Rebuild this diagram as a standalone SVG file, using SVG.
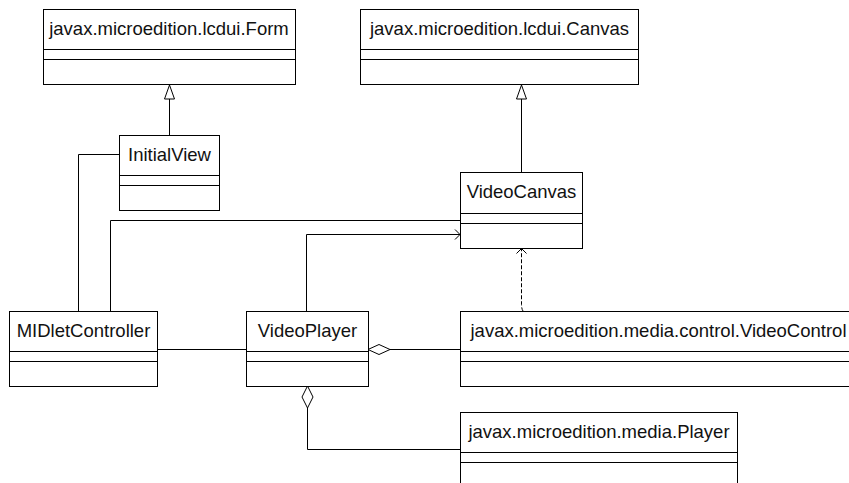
<svg xmlns="http://www.w3.org/2000/svg" width="849" height="483" viewBox="0 0 849 483">
<style>
.box{fill:#fff;stroke:#000;stroke-width:1}
.sep{stroke:#000;stroke-width:1}
.lbl{font-family:"Liberation Sans",Arial,Helvetica,sans-serif;font-size:18.5px;fill:#111;text-anchor:middle}
.edge{fill:none;stroke:#000;stroke-width:1}
.dash{fill:none;stroke:#000;stroke-width:1;stroke-dasharray:4,2}
.hollow{fill:#fff;stroke:#000;stroke-width:1}
</style>
<rect width="849" height="483" fill="#fff"/>
<g id="connectors">
  <!-- generalizations -->
  <path class="edge" d="M169.5,135 V99"/>
  <path class="hollow" d="M169.5,85 L164.5,99 L174.5,99 Z"/>
  <path class="edge" d="M521.5,172 V99"/>
  <path class="hollow" d="M521.5,85 L516.5,99 L526.5,99 Z"/>
  <!-- MIDletController - InitialView -->
  <path class="edge" d="M78.5,311 V154.5 H119"/>
  <!-- MIDletController - VideoCanvas -->
  <path class="edge" d="M110.5,311 V220.5 H460"/>
  <!-- VideoPlayer -> VideoCanvas -->
  <path class="edge" d="M306.5,311 V234.5 H460"/>
  <path class="edge" d="M455,229.5 L460,234.5 L455,239.5"/>
  <!-- MIDletController - VideoPlayer -->
  <path class="edge" d="M157,349.5 H246"/>
  <!-- VideoPlayer <>- VideoControl -->
  <path class="edge" d="M390,349.5 H460"/>
  <path class="hollow" d="M368,349.5 L379,344.5 L390,349.5 L379,354.5 Z"/>
  <!-- VideoPlayer <>- Player -->
  <path class="edge" d="M307.5,408 V449.5 H460"/>
  <path class="hollow" d="M307.5,386 L313,397 L307.5,408 L302,397 Z"/>
  <!-- VideoControl ..> VideoCanvas -->
  <path class="dash" d="M523,311 Q521.5,309 521.5,304 V249"/>
  <path class="edge" d="M516.5,253.5 L521.5,248.5 L526.5,253.5"/>
</g>
<g id="form">
  <rect class="box" x="43.5" y="9.5" width="252" height="75"/>
  <line class="sep" x1="43.5" y1="49.5" x2="295.5" y2="49.5"/>
  <line class="sep" x1="43.5" y1="59.5" x2="295.5" y2="59.5"/>
  <text class="lbl" x="169" y="35">javax.microedition.lcdui.Form</text>
</g>
<g id="canvas">
  <rect class="box" x="360.5" y="9.5" width="278" height="75"/>
  <line class="sep" x1="360.5" y1="49.5" x2="638.5" y2="49.5"/>
  <line class="sep" x1="360.5" y1="59.5" x2="638.5" y2="59.5"/>
  <text class="lbl" x="499.5" y="35">javax.microedition.lcdui.Canvas</text>
</g>
<g id="initialview">
  <rect class="box" x="119.5" y="135.5" width="100" height="75"/>
  <line class="sep" x1="119.5" y1="175.5" x2="219.5" y2="175.5"/>
  <line class="sep" x1="119.5" y1="185.5" x2="219.5" y2="185.5"/>
  <text class="lbl" x="169.5" y="161">InitialView</text>
</g>
<g id="videocanvas">
  <rect class="box" x="460.5" y="172.5" width="122" height="76"/>
  <line class="sep" x1="460.5" y1="213.5" x2="582.5" y2="213.5"/>
  <line class="sep" x1="460.5" y1="223.5" x2="582.5" y2="223.5"/>
  <text class="lbl" x="521.5" y="198">VideoCanvas</text>
</g>
<g id="midletcontroller">
  <rect class="box" x="9.5" y="311.5" width="148" height="75"/>
  <line class="sep" x1="9.5" y1="351.5" x2="157.5" y2="351.5"/>
  <line class="sep" x1="9.5" y1="361.5" x2="157.5" y2="361.5"/>
  <text class="lbl" x="83.5" y="337">MIDletController</text>
</g>
<g id="videoplayer">
  <rect class="box" x="246.5" y="311.5" width="122" height="75"/>
  <line class="sep" x1="246.5" y1="351.5" x2="368.5" y2="351.5"/>
  <line class="sep" x1="246.5" y1="361.5" x2="368.5" y2="361.5"/>
  <text class="lbl" x="307.5" y="337">VideoPlayer</text>
</g>
<g id="videocontrol">
  <rect class="box" x="460.5" y="311.5" width="397" height="75"/>
  <line class="sep" x1="460.5" y1="351.5" x2="857.5" y2="351.5"/>
  <line class="sep" x1="460.5" y1="361.5" x2="857.5" y2="361.5"/>
  <text class="lbl" x="658.5" y="337">javax.microedition.media.control.VideoControl</text>
</g>
<g id="player">
  <rect class="box" x="460.5" y="412.5" width="277" height="75"/>
  <line class="sep" x1="460.5" y1="452.5" x2="737.5" y2="452.5"/>
  <line class="sep" x1="460.5" y1="462.5" x2="737.5" y2="462.5"/>
  <text class="lbl" x="599" y="438">javax.microedition.media.Player</text>
</g>
</svg>
